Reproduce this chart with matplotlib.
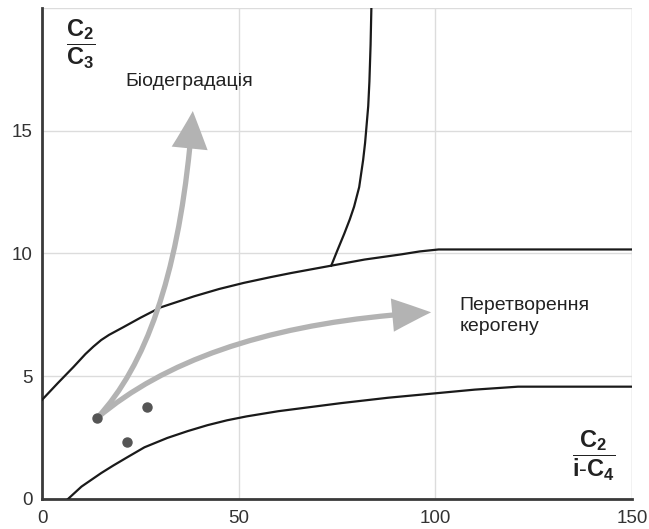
import matplotlib
matplotlib.use("Agg")
import matplotlib.pyplot as plt
from matplotlib.patches import FancyArrowPatch
from matplotlib.path import Path

plt.rcParams['font.family'] = ['Liberation Sans', 'DejaVu Sans']
plt.rcParams['mathtext.fontset'] = 'custom'
plt.rcParams['mathtext.rm'] = 'Liberation Sans'
plt.rcParams['mathtext.bf'] = 'Liberation Sans:bold'

# boundary curves (C2/i-C4 vs C2/C3)
upper_x = [0, 4, 8, 11, 13, 15, 17, 20.7, 25, 30.1, 38.6, 45, 51.3, 58, 63.3,
           73.5, 82, 91.3, 96, 100.8, 150]
upper_y = [4.04, 4.72, 5.38, 5.9, 6.2, 6.47, 6.68, 7.0, 7.38, 7.8, 8.25, 8.55,
           8.8, 9.03, 9.2, 9.5, 9.75, 9.96, 10.08, 10.16, 10.16]

lower_x = [6.6, 10, 15, 18, 21.7, 26, 31.8, 37, 42, 47, 52, 60, 76, 88, 100, 110, 121, 150]
lower_y = [0, 0.5, 1.05, 1.35, 1.7, 2.1, 2.48, 2.76, 3.0, 3.2, 3.36, 3.57, 3.9, 4.12,
           4.3, 4.45, 4.57, 4.57]

steep_x = [73.5, 75, 76.8, 78.2, 79.3, 80.6, 81.6, 82.1, 82.4, 82.9, 83.2, 83.5, 83.7]
steep_y = [9.5, 10.1, 10.8, 11.38, 11.9, 12.7, 13.8, 14.5, 15.06, 16.0, 17.0, 18.5, 20.0]

# sample points
pts_x = [14.0, 26.7, 21.6]
pts_y = [3.3, 3.75, 2.33]

# arrows: start, bend control, tip
bio_arrow = [(14.0, 3.3), (34.4, 6.8), (38.3, 15.8)]
ker_arrow = [(14.0, 3.3), (42.0, 7.1), (98.9, 7.6)]

fig = plt.figure(figsize=(6.49, 5.29), dpi=100)
ax = fig.add_axes([0.065, 0.057, 0.909, 0.928])

ax.set_xlim(0, 150)
ax.set_ylim(0, 20)
ax.set_xticks([0, 50, 100, 150])
ax.set_yticks([0, 5, 10, 15])
ax.grid(True, color='#dcdcdc', linewidth=1.0)
ax.axhline(20, color='#dcdcdc', linewidth=1.0)
ax.axvline(150, color='#dcdcdc', linewidth=1.0)
ax.tick_params(length=0, labelsize=13.5, labelcolor='#333333')
ax.tick_params(axis='y', pad=7)
ax.tick_params(axis='x', pad=8)
for s in ['top', 'right']:
    ax.spines[s].set_visible(False)
for s in ['left', 'bottom']:
    ax.spines[s].set_color('#3a3a3a')
    ax.spines[s].set_linewidth(2.0)

for xs, ys in [(upper_x, upper_y), (lower_x, lower_y), (steep_x, steep_y)]:
    ax.plot(xs, ys, color='#1a1a1a', linewidth=1.6, solid_joinstyle='round', zorder=3)

for a, hw, hl in [(bio_arrow, 26, 27), (ker_arrow, 24, 28)]:
    p = Path(a, [Path.MOVETO, Path.CURVE3, Path.CURVE3])
    arr = FancyArrowPatch(path=p,
                          arrowstyle='simple,head_width=%d,head_length=%d,tail_width=3.8' % (hw, hl),
                          color='#b3b3b3', linewidth=0, zorder=4)
    ax.add_patch(arr)

ax.plot(pts_x, pts_y, 'o', color='#555555', markersize=6.5, zorder=5)

ax.text(21.2, 17.0, 'Біодеградація', fontsize=14, color='#222222', va='center', ha='left')
ax.text(106.2, 7.45, 'Перетворення\nкерогену', fontsize=14, color='#222222',
        va='center', ha='left', linespacing=1.25)

ax.text(9.7, 18.5, r'$\mathbf{\dfrac{C_2}{C_3}}$', fontsize=17, color='#222222',
        ha='center', va='center')
ax.text(140.3, 1.75, r'$\mathbf{\dfrac{C_2}{i\text{-}C_4}}$', fontsize=17, color='#222222',
        ha='center', va='center')

fig.savefig('out.png', dpi=100)
